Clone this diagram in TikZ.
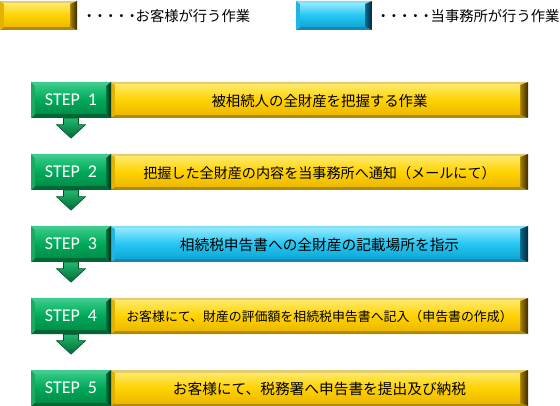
\documentclass[tikz,border=0pt]{standalone}
\usepackage{fontspec}
\newfontfamily\jp{Noto Sans CJK JP}
\newfontfamily\stepfont{Carlito}
\usetikzlibrary{calc}
% yellow scheme
\definecolor{yT}{HTML}{E4CC70}
\definecolor{yB}{HTML}{B08A00}
\definecolor{yL}{HTML}{E2B400}
\definecolor{yR1}{HTML}{A88000}
\definecolor{yR2}{HTML}{3A2A00}
\definecolor{yF1}{HTML}{FFE866}
\definecolor{yF2}{HTML}{FFD200}
\definecolor{yF3}{HTML}{EDB800}
% blue scheme
\definecolor{bT}{HTML}{86DCF2}
\definecolor{bB}{HTML}{1688B0}
\definecolor{bL}{HTML}{22B4E2}
\definecolor{bR1}{HTML}{0C6A8C}
\definecolor{bR2}{HTML}{02283A}
\definecolor{bF1}{HTML}{8AE6FF}
\definecolor{bF2}{HTML}{24C6F2}
\definecolor{bF3}{HTML}{10A6D6}
% green scheme
\definecolor{gT}{HTML}{40CA8C}
\definecolor{gB}{HTML}{006634}
\definecolor{gL}{HTML}{1AAA62}
\definecolor{gR1}{HTML}{00703A}
\definecolor{gR2}{HTML}{002E16}
\definecolor{gF1}{HTML}{2EC680}
\definecolor{gF2}{HTML}{00A85A}
\definecolor{gF3}{HTML}{008E48}
\definecolor{gArrTop}{HTML}{22B86C}
\definecolor{gArrBot}{HTML}{006A36}
\definecolor{gArrEdge}{HTML}{00502A}
% bevelled button: x1 y1 x2 y2 scheme top bottom left right
\newcommand\btn[9]{%
  \fill[#5T] (#1,#2) -- (#3,#2) -- (#3-#9,#2+#6) -- (#1+#8,#2+#6) -- cycle;
  \fill[#5B] (#1,#4) -- (#3,#4) -- (#3-#9,#4-#7) -- (#1+#8,#4-#7) -- cycle;
  \fill[#5L] (#1,#2) -- (#1+#8,#2+#6) -- (#1+#8,#4-#7) -- (#1,#4) -- cycle;
  \shade[left color=#5R1,right color=#5R2] (#3,#2) -- (#3-#9,#2+#6) -- (#3-#9,#4-#7) -- (#3,#4) -- cycle;
  \shade[top color=#5F1,bottom color=#5F3,middle color=#5F2] (#1+#8,#2+#6) rectangle (#3-#9,#4-#7);
}
\tikzset{
  legendtext/.style={anchor=west,inner sep=0pt,font=\jp\fontsize{14.3}{16}\selectfont,text=black},
  steplabel/.style={inner sep=0pt,minimum width=79pt,minimum height=36pt,text=white,font=\stepfont\fontsize{18}{20}\selectfont},
  steptext/.style={inner sep=0pt,text=black},
  steparrow/.style={draw=gArrEdge,line width=0.6pt,top color=gArrTop,bottom color=gArrBot},
}
\newcommand\dt{・\kern-3.6pt}
\begin{document}
\begin{tikzpicture}[x=1pt,y=-1pt]
\useasboundingbox (0,0) rectangle (560,406);
\fill[white] (0,0) rectangle (560,406);
% legend
\btn{0}{1}{77}{30}{y}{3}{3}{4}{7}
\btn{296}{1}{372}{30}{b}{3}{3}{4}{7}
\node[legendtext] (ly) at (82,16) {\dt\dt\dt\dt\dt お客様が行う作業};
\node[legendtext] (lb) at (376,16) {\dt\dt\dt\dt\dt\kern1pt 当事務所が行う作業};
% steps
\foreach \i/\sch/\sz/\txt in {
  1/y/14.4/被相続人の全財産を把握する作業,
  2/y/14.1/把握した全財産の内容を当事務所へ通知（メールにて）,
  3/b/14.7/相続税申告書への全財産の記載場所を指示,
  4/y/12.9/お客様にて、財産の評価額を相続税申告書へ記入（申告書の作成）,
  5/y/14.7/お客様にて、税務署へ申告書を提出及び納税}{
  \pgfmathsetmacro\ytop{82+72*(\i-1)}
  \pgfmathsetmacro\ybot{\ytop+36}
  \pgfmathsetmacro\ymid{\ytop+18}
  \btn{110}{\ytop}{528}{\ybot}{\sch}{3}{3}{5}{8}
  \btn{31}{\ytop}{111}{\ybot}{g}{4}{4}{4}{5}
  \node[steplabel] (g\i) at (71,\ymid) {STEP\hspace{8pt}\i};
  \node[steptext,font=\jp\fontsize{\sz}{16}\selectfont] (t\i) at (319.5,\ymid+1) {\txt};
}
% arrows between steps
\foreach \i in {1,2,3,4}{
  \path[steparrow]
    ($(g\i.south)+(-7.5,0)$) -- ($(g\i.south)+(7.5,0)$) --
    ($(g\i.south)+(7.5,6.5)$) -- ($(g\i.south)+(14.5,6.5)$) --
    ($(g\i.south)+(0,20)$) --
    ($(g\i.south)+(-14.5,6.5)$) -- ($(g\i.south)+(-7.5,6.5)$) -- cycle;
}
\end{tikzpicture}
\end{document}
